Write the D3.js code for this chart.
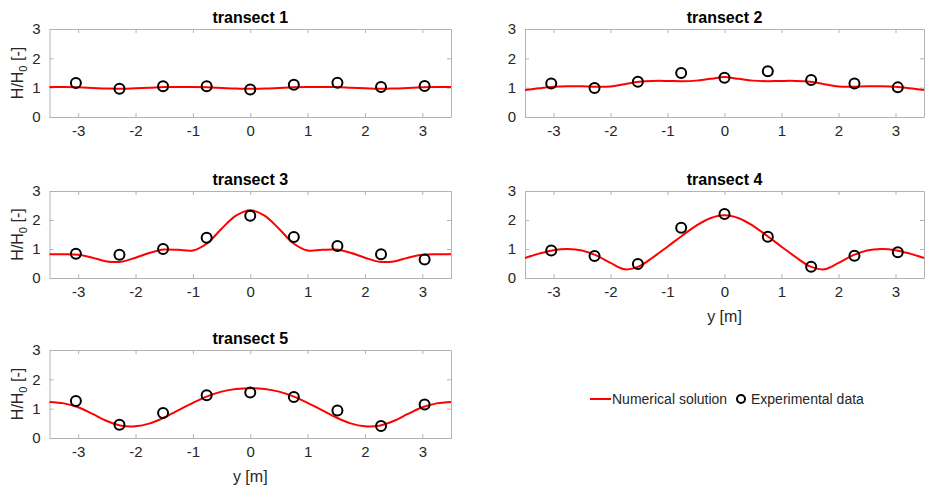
<!DOCTYPE html>
<html>
<head>
<meta charset="utf-8">
<script src="https://cdn.jsdelivr.net/npm/d3@7"></script>
<style>
  body { margin: 0; background: #fff; }
  text { font-family: "Liberation Sans", Arial, sans-serif; }
</style>
</head>
<body>
<div id="chart"></div>
<script>
// sensor positions across the transect [m]
var xPoints = [-3.04, -2.28, -1.52, -0.76, 0, 0.76, 1.52, 2.28, 3.04];

// measured H/H0
var exp1 = [1.16, 0.96, 1.05, 1.05, 0.94, 1.10, 1.17, 1.02, 1.06];
var exp2 = [1.14, 0.99, 1.20, 1.50, 1.34, 1.56, 1.26, 1.14, 1.01];
var exp3 = [0.84, 0.80, 1.00, 1.39, 2.15, 1.41, 1.10, 0.82, 0.64];
var exp4 = [0.95, 0.76, 0.48, 1.73, 2.21, 1.42, 0.39, 0.77, 0.89];
var exp5 = [1.26, 0.45, 0.85, 1.46, 1.55, 1.40, 0.94, 0.41, 1.14];

// numerical solution sampled along y
var xCurve = [-3.5, -3.25, -3, -2.75, -2.5, -2.25, -2, -1.75, -1.5, -1.25, -1, -0.75, -0.5, -0.25, 0,
              0.25, 0.5, 0.75, 1, 1.25, 1.5, 1.75, 2, 2.25, 2.5, 2.75, 3, 3.25, 3.5];
var num1 = [1.02, 1.02, 1.01, 0.99, 0.97, 0.96, 0.98, 1.00, 1.02, 1.02, 1.02, 1.01, 0.99, 0.97, 0.96,
            0.97, 0.99, 1.01, 1.02, 1.02, 1.02, 1.00, 0.98, 0.96, 0.97, 0.99, 1.01, 1.02, 1.02];
var num2 = [0.92, 0.98, 1.03, 1.05, 1.05, 1.03, 1.04, 1.12, 1.20, 1.23, 1.23, 1.22, 1.24, 1.30, 1.36,
            1.30, 1.24, 1.22, 1.23, 1.23, 1.20, 1.12, 1.04, 1.03, 1.05, 1.05, 1.03, 0.98, 0.92];
var num3 = [0.82, 0.82, 0.80, 0.70, 0.57, 0.56, 0.70, 0.87, 0.98, 0.97, 0.95, 1.20, 1.70, 2.15, 2.34,
            2.15, 1.70, 1.20, 0.95, 0.97, 0.98, 0.87, 0.70, 0.56, 0.57, 0.70, 0.80, 0.82, 0.82];
var num4 = [0.69, 0.84, 0.96, 1.00, 0.95, 0.78, 0.52, 0.30, 0.40, 0.72, 1.08, 1.45, 1.80, 2.06, 2.16,
            2.06, 1.80, 1.45, 1.08, 0.72, 0.40, 0.30, 0.52, 0.78, 0.95, 1.00, 0.96, 0.84, 0.69];
var num5 = [1.23, 1.18, 1.05, 0.82, 0.58, 0.42, 0.40, 0.50, 0.70, 0.95, 1.20, 1.42, 1.58, 1.67, 1.70,
            1.67, 1.58, 1.42, 1.20, 0.95, 0.70, 0.50, 0.40, 0.42, 0.58, 0.82, 1.05, 1.18, 1.23];

var titles = ['transect 1', 'transect 2', 'transect 3', 'transect 4', 'transect 5'];
var xTicks = [-3, -2, -1, 0, 1, 2, 3];
var yTicks = [0, 1, 2, 3];

var width = 925, height = 485;

var svg = d3.select('#chart')
  .append('svg')
  .attr('width', width)
  .attr('height', height);

// panel boxes: left, right, top, bottom
var panels = [
  { x0: 49.5, x1: 451, y0: 29, y1: 117, num: num1, exp: exp1, ylab: true, xlab: false },
  { x0: 525, x1: 924, y0: 29, y1: 117, num: num2, exp: exp2, ylab: false, xlab: false },
  { x0: 49.5, x1: 451, y0: 191, y1: 278, num: num3, exp: exp3, ylab: true, xlab: false },
  { x0: 525, x1: 924, y0: 191, y1: 278, num: num4, exp: exp4, ylab: false, xlab: true },
  { x0: 49.5, x1: 451, y0: 350, y1: 438, num: num5, exp: exp5, ylab: true, xlab: true }
];

var boxColor = '#b3b3b3';
var textColor = '#262626';
var fmt = function(d) { return d < 0 ? '-' + Math.abs(d) : String(d); };

panels.forEach(function(p, i) {
  var x = d3.scaleLinear().domain([-3.5, 3.5]).range([p.x0, p.x1]);
  var y = d3.scaleLinear().domain([0, 3]).range([p.y1, p.y0]);
  var g = svg.append('g');

  // bottom axis with inward ticks
  var xb = g.append('g')
    .attr('transform', 'translate(0,' + p.y1 + ')')
    .call(d3.axisBottom(x).tickValues(xTicks).tickSizeInner(-4).tickSizeOuter(0).tickPadding(8).tickFormat(fmt));
  // top axis
  var xt = g.append('g')
    .attr('transform', 'translate(0,' + p.y0 + ')')
    .call(d3.axisTop(x).tickValues(xTicks).tickSizeInner(-4).tickSizeOuter(0).tickFormat(''));
  // left axis
  var yl = g.append('g')
    .attr('transform', 'translate(' + p.x0 + ',0)')
    .call(d3.axisLeft(y).tickValues(yTicks).tickSizeInner(-4).tickSizeOuter(0).tickPadding(9).tickFormat(fmt));
  // right axis
  var yr = g.append('g')
    .attr('transform', 'translate(' + p.x1 + ',0)')
    .call(d3.axisRight(y).tickValues(yTicks).tickSizeInner(-4).tickSizeOuter(0).tickFormat(''));

  [xb, xt, yl, yr].forEach(function(a) {
    a.selectAll('.domain').attr('stroke', boxColor);
    a.selectAll('.tick line').attr('stroke', boxColor);
    a.selectAll('.tick text')
      .attr('fill', textColor)
      .style('font-size', '15px')
      .style('font-family', '"Liberation Sans", Arial, sans-serif');
  });

  // numerical solution
  var line = d3.line()
    .x(function(d, j) { return x(xCurve[j]); })
    .y(function(d) { return y(d); })
    .curve(d3.curveCatmullRom.alpha(0.5));
  g.append('path')
    .datum(p.num)
    .attr('d', line)
    .attr('fill', 'none')
    .attr('stroke', '#ff0000')
    .attr('stroke-width', 2);

  // experimental data
  g.selectAll('circle')
    .data(p.exp)
    .enter()
    .append('circle')
    .attr('cx', function(d, j) { return x(xPoints[j]); })
    .attr('cy', function(d) { return y(d); })
    .attr('r', 5)
    .attr('fill', 'none')
    .attr('stroke', '#000')
    .attr('stroke-width', 2);

  // title
  g.append('text')
    .attr('x', (p.x0 + p.x1) / 2)
    .attr('y', p.y0 - 6)
    .attr('text-anchor', 'middle')
    .style('font-size', '16px')
    .style('font-weight', 'bold')
    .attr('fill', '#000')
    .text(titles[i]);

  if (p.ylab) {
    var yt = g.append('text')
      .attr('transform', 'translate(23,' + ((p.y0 + p.y1) / 2) + ') rotate(-90)')
      .attr('text-anchor', 'middle')
      .style('font-size', '16px')
      .attr('fill', textColor);
    yt.append('tspan').text('H/H');
    yt.append('tspan').attr('dy', 4).style('font-size', '11px').text('0');
    yt.append('tspan').attr('dy', -4).text(' [-]');
  }

  if (p.xlab) {
    g.append('text')
      .attr('x', (p.x0 + p.x1) / 2)
      .attr('y', p.y1 + 44)
      .attr('text-anchor', 'middle')
      .style('font-size', '16px')
      .attr('fill', textColor)
      .text('y [m]');
  }
});

// legend
var legend = svg.append('g');
legend.append('line')
  .attr('x1', 590).attr('x2', 611)
  .attr('y1', 399).attr('y2', 399)
  .attr('stroke', '#ff0000')
  .attr('stroke-width', 2);
legend.append('text')
  .attr('x', 612).attr('y', 404)
  .style('font-size', '14px')
  .attr('fill', textColor)
  .text('Numerical solution');
legend.append('circle')
  .attr('cx', 741).attr('cy', 399)
  .attr('r', 4)
  .attr('fill', 'none')
  .attr('stroke', '#000')
  .attr('stroke-width', 2);
legend.append('text')
  .attr('x', 751).attr('y', 404)
  .style('font-size', '14px')
  .attr('fill', textColor)
  .text('Experimental data');
</script>
</body>
</html>
